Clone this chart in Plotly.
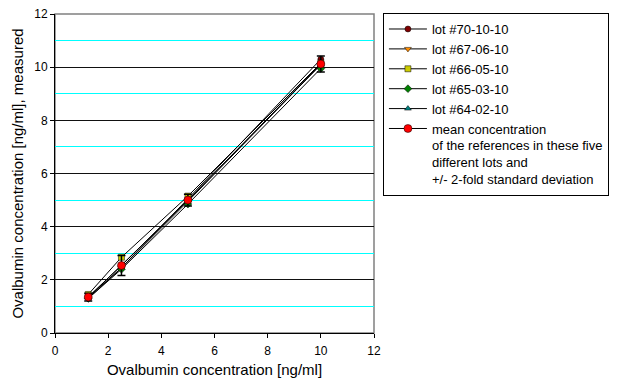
import plotly.graph_objects as go

x_nominal = [1.25, 2.5, 5, 10]
lot_names = ["lot #70-10-10", "lot #67-06-10", "lot #66-05-10", "lot #65-03-10", "lot #64-02-10"]
lot_70 = [1.35, 2.45, 5.05, 10.30]
lot_67 = [1.30, 2.45, 4.95, 10.10]
lot_66 = [1.45, 2.85, 5.15, 10.15]
lot_65 = [1.30, 2.40, 4.85, 9.95]
lot_64 = [1.35, 2.55, 5.00, 10.10]
mean_vals = [1.35, 2.54, 5.00, 10.12]
mean_err = [0.15, 0.38, 0.22, 0.30]
mean_name = "mean concentration<br>of the references in these five<br>different lots and<br>+/- 2-fold standard deviation"

lots = [lot_70, lot_67, lot_66, lot_65, lot_64]
colors = ["#800000", "#FF8C00", "#CCCC00", "#008000", "#008080"]
symbols = ["circle", "triangle-down", "square", "diamond", "triangle-up"]

fig = go.Figure()
for name, vals, c, s in zip(lot_names, lots, colors, symbols):
    fig.add_trace(go.Scatter(
        x=x_nominal, y=vals, name=name, mode="lines+markers",
        line=dict(color="black", width=1),
        marker=dict(color=c, symbol=s, size=6, line=dict(color="black", width=0.5)),
    ))
fig.add_trace(go.Scatter(
    x=x_nominal, y=mean_vals, name=mean_name, mode="lines+markers",
    line=dict(color="black", width=1),
    marker=dict(color="#FF0000", symbol="circle", size=8, line=dict(color="black", width=0.5)),
    error_y=dict(type="data", array=mean_err, color="black", thickness=1.5, width=4),
))

fig.update_layout(
    width=640, height=382,
    margin=dict(l=55, r=266, t=14, b=49, autoexpand=False),
    paper_bgcolor="white", plot_bgcolor="white",
    font=dict(family="Liberation Sans, Arial, sans-serif", color="black", size=12),
    showlegend=True,
    legend=dict(
        x=1.028, y=1.003, xanchor="left", yanchor="top",
        bordercolor="black", borderwidth=1, bgcolor="white",
        font=dict(size=13), valign="top", tracegroupgap=0,
        itemwidth=38, maxheight=360,
    ),
    xaxis=dict(
        range=[0, 12], dtick=2, showgrid=False, zeroline=False,
        showline=True, linecolor="black", linewidth=1,
        ticks="outside", ticklen=4, tickcolor="black",
        ticklabelstandoff=3,
        title=dict(text="Ovalbumin concentration [ng/ml]", font=dict(size=15), standoff=7),
        tickfont=dict(size=12),
    ),
    yaxis=dict(
        range=[0, 12], dtick=2, showgrid=True, gridcolor="#111111", gridwidth=1,
        zeroline=False, showline=True, linecolor="black", linewidth=1,
        ticks="outside", ticklen=4, tickcolor="black",
        minor=dict(dtick=1, showgrid=True, gridcolor="#00FFFF", gridwidth=1, ticks=""),
        title=dict(text="Ovalbumin concentration [ng/ml], measured", font=dict(size=15), standoff=6),
        tickfont=dict(size=12),
    ),
    shapes=[dict(type="rect", xref="paper", yref="paper", x0=0, y0=0, x1=1, y1=1,
                 line=dict(color="#808080", width=1.5), layer="below")],
)

fig.write_html("out.html")
